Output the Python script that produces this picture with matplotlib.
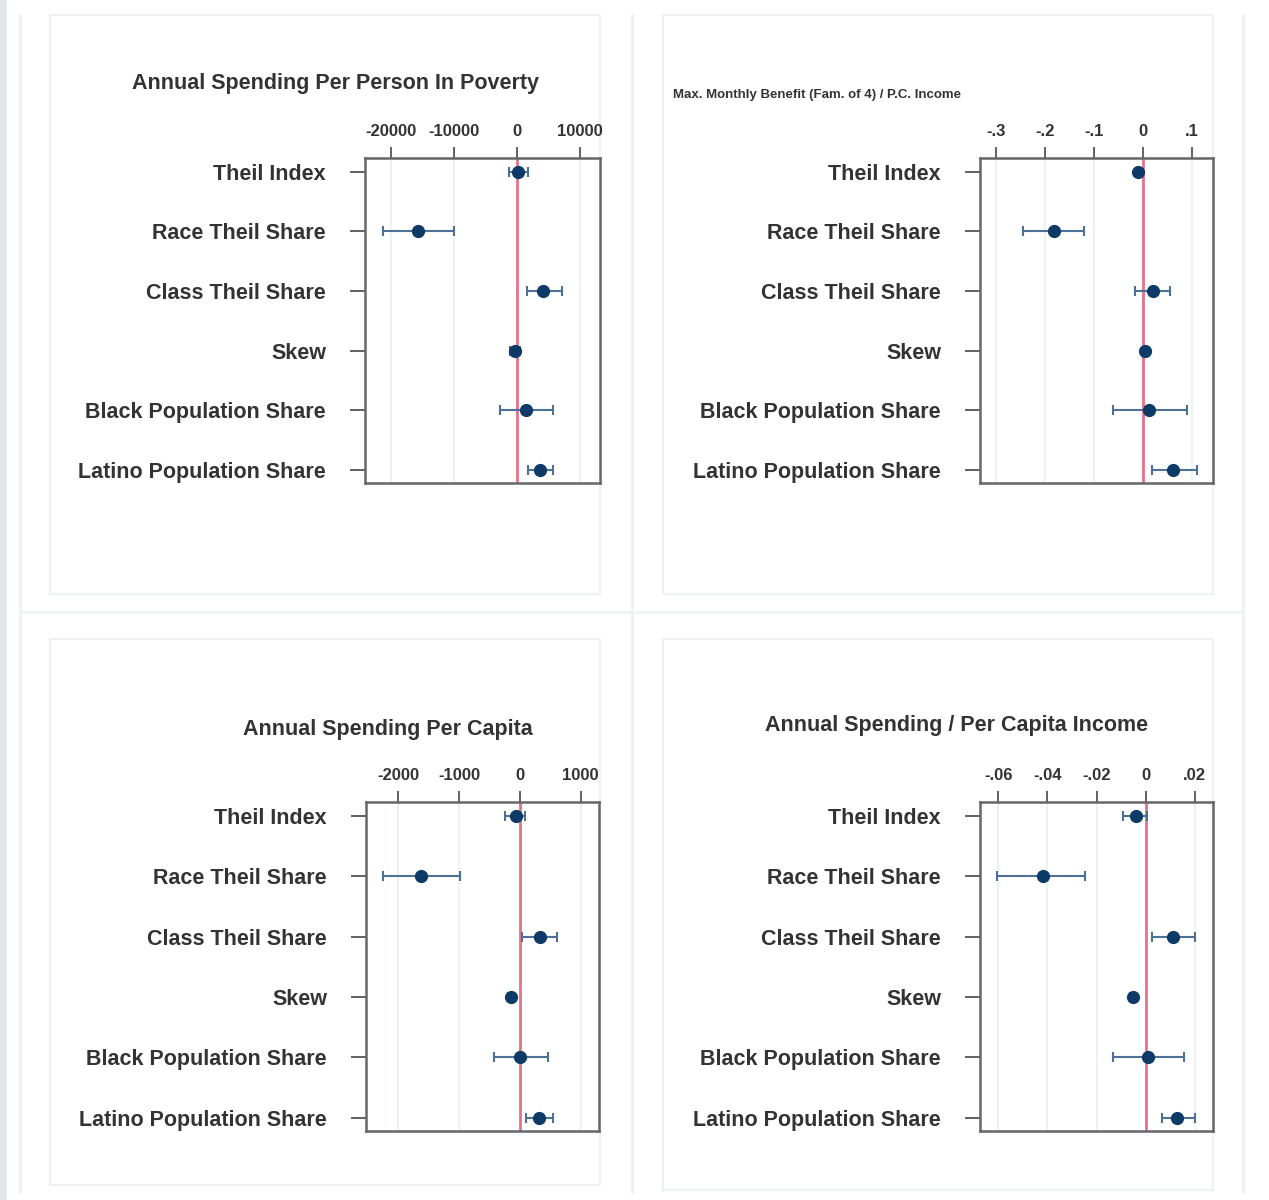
import numpy as np
import matplotlib
matplotlib.use("Agg")
from matplotlib import pyplot as plt
from matplotlib.patches import Rectangle
from matplotlib.lines import Line2D

plt.rcParams['font.family'] = ['Liberation Sans', 'DejaVu Sans']

labels = ['Theil Index', 'Race Theil Share', 'Class Theil Share', 'Skew',
          'Black Population Share', 'Latino Population Share']

# panel 1: annual spending per person in poverty
p1_title = 'Annual Spending Per Person In Poverty'
p1_est = [200, -15600, 4200, -300, 1500, 3700]
p1_lo = [-1200, -21200, 1700, -1000, -2650, 1850]
p1_hi = [1850, -9950, 7150, 450, 5800, 5700]
p1_ticks = [-20000, -10000, 0, 10000]
p1_ticklabels = ['-20000', '-10000', '0', '10000']

# panel 2: max monthly benefit / per capita income
p2_title = 'Max. Monthly Benefit (Fam. of 4) / P.C. Income'
p2_est = [-0.009, -0.1825, 0.021, 0.005, 0.014, 0.063]
p2_lo = [-0.014, -0.244, -0.016, 0.0, -0.060, 0.019]
p2_hi = [-0.004, -0.121, 0.056, 0.010, 0.090, 0.112]
p2_ticks = [-0.3, -0.2, -0.1, 0, 0.1]
p2_ticklabels = ['-.3', '-.2', '-.1', '0', '.1']

# panel 3: annual spending per capita
p3_title = 'Annual Spending Per Capita'
p3_est = [-70, -1620, 330, -140, 10, 320]
p3_lo = [-250, -2250, 30, -190, -430, 110]
p3_hi = [80, -990, 610, -90, 470, 550]
p3_ticks = [-2000, -1000, 0, 1000]
p3_ticklabels = ['-2000', '-1000', '0', '1000']

# panel 4: annual spending / per capita income
p4_title = 'Annual Spending / Per Capita Income'
p4_est = [-0.0038, -0.0420, 0.0110, -0.0052, 0.0010, 0.0128]
p4_lo = [-0.0090, -0.0605, 0.0027, -0.0065, -0.0133, 0.0068]
p4_hi = [0.0005, -0.0245, 0.0200, -0.0040, 0.0155, 0.0200]
p4_ticks = [-0.06, -0.04, -0.02, 0, 0.02]
p4_ticklabels = ['-.06', '-.04', '-.02', '0', '.02']

W, H = 1269, 1200
fig = plt.figure(figsize=(W / 100, H / 100), dpi=100)
fig.patch.set_facecolor('white')

def fx(x):
    return x / W

def fy(y):
    return 1 - y / H

# background frame lines (behind the axes)
fig.patches.append(Rectangle((0, 0), fx(7), 1, transform=fig.transFigure,
                             facecolor='#e3e5e8', edgecolor='none', zorder=-10))
for (x0, y0, x1, y1) in [(50, 15, 600, 594), (663, 15, 1213, 594),
                         (50, 639, 600, 1185), (663, 639, 1213, 1190)]:
    fig.patches.append(Rectangle((fx(x0), fy(y1)), fx(x1 - x0), (y1 - y0) / H,
                                 transform=fig.transFigure, facecolor='none',
                                 edgecolor='#eef2f4', lw=1.5, zorder=-10))
line_kw = dict(transform=fig.transFigure, color='#eef2f4', lw=2, zorder=-10)
fig.lines.append(Line2D([fx(20), fx(1243)], [fy(612), fy(612)], **line_kw))
fig.lines.append(Line2D([fx(632), fx(632)], [fy(15), fy(1192)], **line_kw))
fig.lines.append(Line2D([fx(20), fx(20)], [fy(15), fy(1192)], **line_kw))
fig.lines.append(Line2D([fx(1243), fx(1243)], [fy(15), fy(1192)], **line_kw))

panels = [
    (p1_title, p1_est, p1_lo, p1_hi, p1_ticks, p1_ticklabels, (-24080, 13220),
     (365, 158, 600, 483), (336, 84), 15.5),
    (p2_title, p2_est, p2_lo, p2_hi, p2_ticks, p2_ticklabels, (-0.333, 0.144),
     (980, 158, 1213, 483), (817, 95), 9.5),
    (p3_title, p3_est, p3_lo, p3_hi, p3_ticks, p3_ticklabels, (-2533, 1304),
     (366, 802, 599, 1131), (388, 730), 15.5),
    (p4_title, p4_est, p4_lo, p4_hi, p4_ticks, p4_ticklabels, (-0.0675, 0.0275),
     (980, 802, 1213, 1131), (957, 726), 15.5),
]

ypos = np.arange(1, len(labels) + 1)

for title, est, lo, hi, ticks, ticklabels, xlim, box, tpos, tsize in panels:
    x0, y0, x1, y1 = box
    ax = fig.add_axes([fx(x0), fy(y1), (x1 - x0) / W, (y1 - y0) / H])
    est = np.array(est)
    err = np.vstack([est - np.array(lo), np.array(hi) - est])
    for t in ticks:
        ax.axvline(t, color='#eaf1f3', lw=1.2, zorder=0)
    ax.axvline(0, color='#e5728a', lw=2, zorder=1)
    ax.errorbar(est, ypos, xerr=err, fmt='o', color='#0d3a66', ms=8.5,
                ecolor='#4d7196', elinewidth=1.5, capsize=3.5, capthick=1.5,
                zorder=3)
    ax.set_xlim(*xlim)
    ax.set_ylim(6.22, 0.77)
    ax.set_yticks(ypos)
    ax.set_yticklabels(labels, fontsize=15.5, color='#333333', fontweight='bold')
    ax.set_xticks(ticks)
    ax.set_xticklabels(ticklabels, fontsize=12, color='#333333', fontweight='bold')
    ax.xaxis.tick_top()
    ax.tick_params(axis='x', length=8, width=1.3, color='#555555', pad=6)
    ax.tick_params(axis='y', length=11, width=1.3, color='#555555', pad=17)
    for s in ax.spines.values():
        s.set_color('#666666')
        s.set_linewidth(1.8)
    fig.text(fx(tpos[0]), fy(tpos[1]), title, ha='center', va='center',
             fontsize=tsize, color='#333333', fontweight='bold')

fig.savefig('out.png', dpi=100)
